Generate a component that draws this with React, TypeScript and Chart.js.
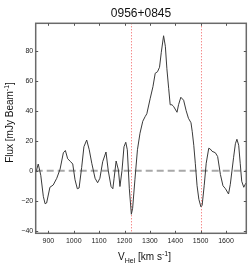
import React, { useEffect, useRef } from "react";
import { Chart, registerables } from "chart.js";

Chart.register(...registerables);

// ---- data ----
const velocity = [
  851, 860, 870, 880, 887, 893, 906, 919, 933, 946, 959, 967,
  976, 988, 996, 1005, 1014, 1021, 1031, 1040, 1051, 1061, 1071, 1084,
  1094, 1103, 1114, 1127, 1136, 1147, 1154, 1159, 1167, 1176, 1182, 1190,
  1198, 1205, 1211, 1219, 1227, 1232, 1241, 1251, 1261, 1272, 1281, 1288,
  1301, 1312, 1321, 1330, 1338, 1345, 1354, 1361, 1367, 1374, 1380, 1387,
  1393, 1407, 1413, 1422, 1433, 1443, 1452, 1462, 1467, 1473, 1479, 1486,
  1493, 1501, 1506, 1514, 1522, 1532, 1538, 1545, 1558, 1567, 1578, 1588,
  1598, 1610, 1617, 1630, 1637, 1643, 1650, 1656, 1662, 1670, 1676, 1680,
];
const flux = [
  -1, 4.5, -3, -17, -22, -21.5, -11, -9.5, -5, 1, 12, 13.5,
  8, 6, 4.5, -6, -12, -11.5, 2, 16, 20.5, 14, 5, -5,
  -8, -5, 6, 12.5, 0, -10.5, -12, -5, 6.5, 0.5, -10.5, 0,
  16, 19, 14, -12, -29, -25, -6, 14, 25, 33, 36, 38,
  48, 56, 65, 66, 69, 79, 90, 83, 68, 55, 44, 44,
  43, 39, 44, 49, 47, 40, 35, 32, 26, 17, 5, -10,
  -19, -24, -23, -10, 5, 15, 14.5, 13, 12, 9.5, -2.5, -10,
  -12, -15.5, -9, 9, 18, 21, 17, 5, -7, -11, -9, -8,
];
const markerVelocities = [1227, 1500];
const xTicks = [900, 1000, 1100, 1200, 1300, 1400, 1500, 1600];
const yTicks = [-40, -20, 0, 20, 40, 60, 80];
const xRange = [850, 1680];
const yRange = [-41.7, 98.3];
const titleText = "0956+0845";

const W = 249;
const H = 265;
const TICK_FONT = "7px 'Liberation Sans Narrow', 'Liberation Sans', Arial, sans-serif";
const LABEL_FAMILY = "'Liberation Sans', Arial, sans-serif";

type Part = { t: string; size: number; dy: number };

function drawParts(ctx: CanvasRenderingContext2D, parts: Part[], cx: number, baseY: number) {
  let total = 0;
  for (const p of parts) {
    ctx.font = `${p.size}px ${LABEL_FAMILY}`;
    total += ctx.measureText(p.t).width;
  }
  let xx = cx - total / 2;
  ctx.textAlign = "left";
  ctx.textBaseline = "alphabetic";
  for (const p of parts) {
    ctx.font = `${p.size}px ${LABEL_FAMILY}`;
    ctx.fillText(p.t, xx, baseY + p.dy);
    xx += ctx.measureText(p.t).width;
  }
}

const matlabPlugin = {
  id: "matlabAxes",
  beforeDatasetsDraw(chart: any) {
    const { ctx, chartArea: a, scales } = chart;
    const x = scales.x;
    const y = scales.y;
    ctx.save();
    // zero reference line
    const y0 = y.getPixelForValue(0);
    ctx.strokeStyle = "#a8a8a8";
    ctx.lineWidth = 2;
    ctx.setLineDash([7, 4]);
    ctx.beginPath();
    ctx.moveTo(a.left, y0);
    ctx.lineTo(a.right, y0);
    ctx.stroke();
    // velocity markers
    ctx.strokeStyle = "#f25a5a";
    ctx.lineWidth = 1;
    ctx.setLineDash([1, 2]);
    for (const m of markerVelocities) {
      const px = Math.round(x.getPixelForValue(m)) + 0.5;
      ctx.beginPath();
      ctx.moveTo(px, a.top);
      ctx.lineTo(px, a.bottom);
      ctx.stroke();
    }
    ctx.restore();
  },
  afterDraw(chart: any) {
    const { ctx, chartArea: a, scales } = chart;
    const x = scales.x;
    const y = scales.y;
    ctx.save();
    ctx.setLineDash([]);
    // box
    ctx.strokeStyle = "#6a6a6a";
    ctx.lineWidth = 1.5;
    ctx.strokeRect(a.left, a.top, a.right - a.left, a.bottom - a.top);
    // inward ticks
    ctx.lineWidth = 1;
    ctx.strokeStyle = "#555";
    const tl = 2.5;
    ctx.beginPath();
    for (const v of xTicks) {
      const px = Math.round(x.getPixelForValue(v)) + 0.5;
      ctx.moveTo(px, a.bottom);
      ctx.lineTo(px, a.bottom - tl);
      ctx.moveTo(px, a.top);
      ctx.lineTo(px, a.top + tl);
    }
    for (const v of yTicks) {
      const py = Math.round(y.getPixelForValue(v)) + 0.5;
      ctx.moveTo(a.left, py);
      ctx.lineTo(a.left + tl, py);
      ctx.moveTo(a.right, py);
      ctx.lineTo(a.right - tl, py);
    }
    ctx.stroke();
    // tick labels
    ctx.fillStyle = "#222";
    ctx.font = TICK_FONT;
    ctx.textAlign = "center";
    ctx.textBaseline = "alphabetic";
    for (const v of xTicks) {
      ctx.fillText(String(v), x.getPixelForValue(v), a.bottom + 10);
    }
    ctx.textAlign = "right";
    ctx.textBaseline = "middle";
    for (const v of yTicks) {
      ctx.fillText(v < 0 ? "\u2212" + Math.abs(v) : String(v), a.left - 2.5, y.getPixelForValue(v));
    }
    // title
    ctx.fillStyle = "#111";
    ctx.font = `12px ${LABEL_FAMILY}`;
    ctx.textAlign = "center";
    ctx.textBaseline = "alphabetic";
    ctx.fillText(titleText, (a.left + a.right) / 2, 16.7);
    // x axis title
    drawParts(
      ctx,
      [
        { t: "V", size: 10, dy: 0 },
        { t: "Hel", size: 7, dy: 3.3 },
        { t: " [km s", size: 10, dy: 0 },
        { t: "-1", size: 7, dy: -4.5 },
        { t: "]", size: 10, dy: 0 },
      ],
      144.5,
      260
    );
    // y axis title
    ctx.save();
    ctx.translate(13, 122.5);
    ctx.rotate(-Math.PI / 2);
    drawParts(
      ctx,
      [
        { t: "Flux [mJy Beam", size: 10, dy: 0 },
        { t: "-1", size: 7, dy: -4.5 },
        { t: "]", size: 10, dy: 0 },
      ],
      0,
      0
    );
    ctx.restore();
    ctx.restore();
  },
};

export default function App() {
  const ref = useRef<HTMLCanvasElement | null>(null);
  useEffect(() => {
    if (!ref.current) return;
    const chart = new Chart(ref.current, {
      type: "line",
      data: {
        datasets: [
          {
            data: velocity.map((v, i) => ({ x: v, y: flux[i] })),
            borderColor: "#3a3a3a",
            borderWidth: 1,
            pointRadius: 0,
            tension: 0,
            fill: false,
          },
        ],
      },
      options: {
        animation: false,
        responsive: false,
        devicePixelRatio: 1,
        layout: { padding: { left: 35.7, top: 23.3, right: W - 246.3, bottom: H - 233.3 } },
        plugins: { legend: { display: false }, tooltip: { enabled: false }, title: { display: false } },
        scales: {
          x: { type: "linear", min: xRange[0], max: xRange[1], display: false },
          y: { type: "linear", min: yRange[0], max: yRange[1], display: false },
        },
      },
      plugins: [matlabPlugin],
    } as any);
    return () => chart.destroy();
  }, []);
  return (
    <div style={{ position: "absolute", left: 0, top: 0, width: W, height: H, background: "#fff" }}>
      <canvas ref={ref} width={W} height={H} style={{ width: W, height: H, display: "block" }} />
    </div>
  );
}
